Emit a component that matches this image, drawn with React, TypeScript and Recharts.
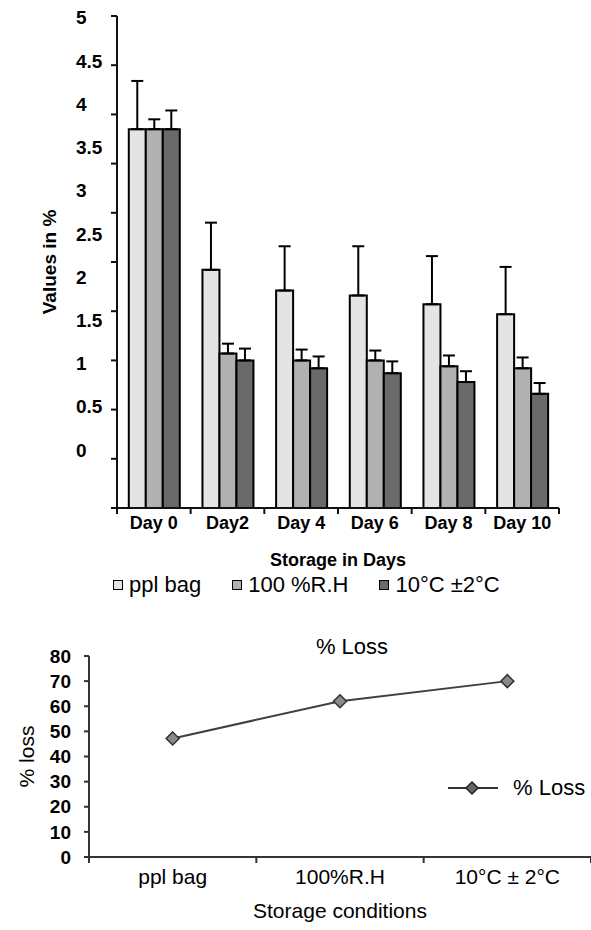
import React from "react";
import { BarChart, Bar, ErrorBar, XAxis, YAxis, LineChart, Line, Legend } from "recharts";

const FONT = '"Liberation Sans", Arial, sans-serif';

// top chart: values in % over storage days
const days = ["Day 0", "Day2", "Day 4", "Day 6", "Day 8", "Day 10"];
const pplBag = [3.85, 2.42, 2.21, 2.16, 2.07, 1.97];
const rh100 = [3.85, 1.57, 1.5, 1.5, 1.44, 1.42];
const cold10 = [3.85, 1.5, 1.42, 1.37, 1.28, 1.16];
const pplErr = [0.49, 0.48, 0.45, 0.5, 0.49, 0.48];
const rhErr = [0.1, 0.1, 0.11, 0.1, 0.11, 0.11];
const coldErr = [0.19, 0.12, 0.12, 0.12, 0.11, 0.11];
const yTicks = [0, 0.5, 1, 1.5, 2, 2.5, 3, 3.5, 4, 4.5, 5];

// bottom chart: % loss per storage condition
const conditions = ["ppl bag", "100%R.H", "10\u00b0C \u00b1 2\u00b0C"];
const lossValues = [47.2, 62, 70];
const lossTicks = [0, 10, 20, 30, 40, 50, 60, 70, 80];

const barSeries = [
  { key: "ppl", err: "pplE", name: "ppl bag", color: "#e4e4e4" },
  { key: "rh", err: "rhE", name: "100 %R.H", color: "#b1b1b1" },
  { key: "cold", err: "coldE", name: "10\u00b0C \u00b12\u00b0C", color: "#6a6a6a" },
];

const barData = days.map((day, i) => ({
  day,
  ppl: pplBag[i],
  rh: rh100[i],
  cold: cold10[i],
  pplE: [0, pplErr[i]],
  rhE: [0, rhErr[i]],
  coldE: [0, coldErr[i]],
}));

const lineData = conditions.map((cond, i) => ({ cond, loss: lossValues[i] }));

const LeftLabelTick = ({ x, y, payload }: any) => (
  <text x={x - 40} y={y} dy="0.35em" textAnchor="start" fontSize={19} fontWeight="bold" fontFamily={FONT} fill="#000">
    {payload.value}
  </text>
);

const NoLabel = () => <g />;

// category tick: label at band centre, tick marks at band edges (Excel style)
const EdgeTick = (opts: { size: number; weight: string; color: string; dy: number; last: number }) => (props: any) => {
  const { x, y, payload, index } = props;
  const half = payload.offset || 0;
  const axisY = y - opts.dy;
  return (
    <g>
      <line x1={x - half} y1={axisY} x2={x - half} y2={axisY + 6} stroke={opts.color} strokeWidth={2} />
      {index === opts.last && <line x1={x + half} y1={axisY} x2={x + half} y2={axisY + 6} stroke={opts.color} strokeWidth={2} />}
      <text x={x} y={y} dy="0.71em" textAnchor="middle" fontSize={opts.size} fontWeight={opts.weight} fontFamily={FONT} fill="#000">
        {payload.value}
      </text>
    </g>
  );
};

const RotatedLabel = (text: string, dx: number, size: number, weight: string) => (props: any) => {
  const vb = props.viewBox;
  const cx = vb.x - dx;
  const cy = vb.y + vb.height / 2;
  return (
    <text x={cx} y={cy} textAnchor="middle" dominantBaseline="central" transform={`rotate(-90, ${cx}, ${cy})`} fontSize={size} fontWeight={weight} fontFamily={FONT} fill="#000">
      {text}
    </text>
  );
};

const BarLegend = () => (
  <div style={{ display: "flex", alignItems: "center", fontFamily: FONT, fontSize: 22, color: "#000", lineHeight: "26px" }}>
    {barSeries.map((s) => (
      <span key={s.key} style={{ display: "flex", alignItems: "center", marginRight: 31 }}>
        <span style={{ width: 8, height: 8, border: "1.5px solid #000", background: s.color, marginRight: 6 }} />
        {s.name}
      </span>
    ))}
  </div>
);

const Diamond = ({ cx, cy }: any) => {
  if (cx == null || cy == null) return null;
  return <polygon points={`${cx},${cy - 6.5} ${cx + 6.5},${cy} ${cx},${cy + 6.5} ${cx - 6.5},${cy}`} fill="#8a8a8a" stroke="#333" strokeWidth={1.5} />;
};

const LossLegend = () => (
  <div style={{ display: "flex", alignItems: "center", fontFamily: FONT, fontSize: 22, color: "#000", lineHeight: "26px" }}>
    <svg width={50} height={16} style={{ marginRight: 15 }}>
      <line x1={0} y1={8} x2={50} y2={8} stroke="#333" strokeWidth={2} />
      <polygon points="24,2 30,8 24,14 18,8" fill="#666" stroke="#222" strokeWidth={1.5} />
    </svg>
    % Loss
  </div>
);

const App = () => {
  return (
    <div style={{ position: "absolute", left: 0, top: 0, width: 591, height: 930, background: "#fff", fontFamily: FONT }}>
      <div style={{ position: "absolute", left: 0, top: 0 }}>
        <BarChart width={591} height={620} data={barData} margin={{ top: 16, right: 32, bottom: 111, left: 115 }} barCategoryGap="16%" barGap={0}>
          <XAxis
            dataKey="day"
            height={1}
            interval={0}
            axisLine={{ stroke: "#111", strokeWidth: 2 }}
            tickLine={false}
            tickSize={0}
            tickMargin={8}
            tick={EdgeTick({ size: 18, weight: "bold", color: "#111", dy: 8, last: days.length - 1 })}
            label={{ value: "Storage in Days", position: "bottom", offset: 44, fontSize: 18, fontWeight: "bold", fill: "#000", fontFamily: FONT }}
          />
          <YAxis
            domain={[0, 5]}
            ticks={yTicks}
            interval={0}
            width={1}
            axisLine={{ stroke: "#111", strokeWidth: 2 }}
            tick={NoLabel}
            tickLine={{ stroke: "#111", strokeWidth: 2 }}
            tickSize={6}
            label={RotatedLabel("Values in %", 67, 19, "bold")}
          />
          <YAxis yAxisId="labels" domain={[-0.67, 5.02]} ticks={yTicks} interval={0} allowDataOverflow width={1} axisLine={false} tickLine={false} tickSize={0} tickMargin={0} tick={<LeftLabelTick />} />
          <Legend layout="horizontal" align="center" verticalAlign="middle" wrapperStyle={{ top: 572, left: 113, width: 478 }} content={<BarLegend />} />
          {barSeries.map((s) => (
            <Bar key={s.key} dataKey={s.key} name={s.name} fill={s.color} stroke="#000" strokeWidth={2} isAnimationActive={false}>
              <ErrorBar dataKey={s.err} direction="y" width={6} stroke="#000" strokeWidth={2} />
            </Bar>
          ))}
        </BarChart>
      </div>
      <div style={{ position: "absolute", left: 0, top: 620 }}>
        <LineChart width={591} height={310} data={lineData} margin={{ top: 36, right: 0, bottom: 72, left: 88 }}>
          <XAxis
            dataKey="cond"
            scale="band"
            height={1}
            interval={0}
            axisLine={{ stroke: "#333", strokeWidth: 2 }}
            tickLine={false}
            tickSize={0}
            tickMargin={12}
            tick={EdgeTick({ size: 21, weight: "normal", color: "#333", dy: 12, last: conditions.length - 1 })}
            label={{ value: "Storage conditions", position: "bottom", offset: 45, fontSize: 21, fill: "#000", fontFamily: FONT }}
          />
          <YAxis
            domain={[0, 80]}
            ticks={lossTicks}
            interval={0}
            width={1}
            axisLine={{ stroke: "#333", strokeWidth: 2 }}
            tickLine={{ stroke: "#333", strokeWidth: 2 }}
            tickSize={5}
            tickMargin={13}
            tick={{ fontSize: 19, fontWeight: "bold", fill: "#000", fontFamily: FONT }}
            label={RotatedLabel("% loss", 62, 21, "normal")}
          />
          <Legend layout="horizontal" align="center" verticalAlign="middle" wrapperStyle={{ top: 155, left: 448, width: 143 }} content={<LossLegend />} />
          <Line dataKey="loss" name="% Loss" stroke="#404040" strokeWidth={2} dot={<Diamond />} activeDot={false} isAnimationActive={false} />
        </LineChart>
        <div style={{ position: "absolute", left: 0, top: 14, width: 704, textAlign: "center", fontSize: 22, color: "#000", lineHeight: "26px" }}>% Loss</div>
      </div>
    </div>
  );
};

export default App;
